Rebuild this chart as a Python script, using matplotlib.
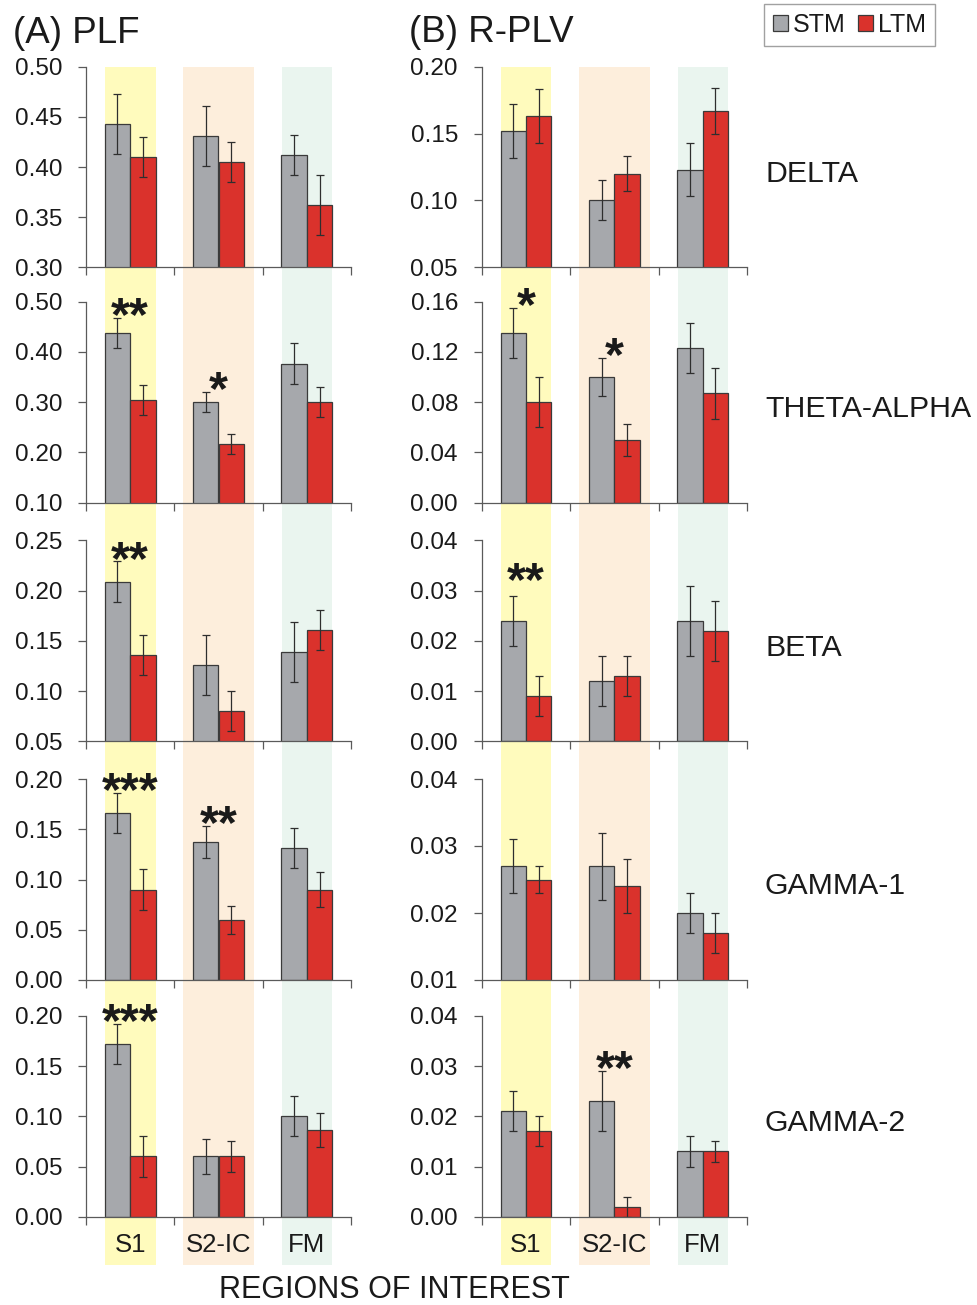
import matplotlib
matplotlib.use("Agg")
import matplotlib.pyplot as plt
from matplotlib.patches import Patch
import numpy as np

plt.rcParams['font.family'] = ['Liberation Sans', 'DejaVu Sans']

# ---------------------------------------------------------------- data
regions = ["S1", "S2-IC", "FM"]
bands = ["DELTA", "THETA-ALPHA", "BETA", "GAMMA-1", "GAMMA-2"]

# PLF: mean and SEM per band (rows) and region (columns)
plf_stm = [[0.443, 0.431, 0.412],
           [0.438, 0.300, 0.377],
           [0.209, 0.126, 0.139],
           [0.166, 0.137, 0.131],
           [0.172, 0.060, 0.100]]
plf_stm_err = [[0.030, 0.030, 0.020],
               [0.030, 0.020, 0.040],
               [0.020, 0.030, 0.030],
               [0.020, 0.016, 0.020],
               [0.020, 0.017, 0.020]]
plf_ltm = [[0.410, 0.405, 0.362],
           [0.305, 0.217, 0.300],
           [0.136, 0.080, 0.161],
           [0.090, 0.060, 0.090],
           [0.060, 0.060, 0.086]]
plf_ltm_err = [[0.020, 0.020, 0.030],
               [0.030, 0.020, 0.030],
               [0.020, 0.020, 0.020],
               [0.020, 0.014, 0.017],
               [0.020, 0.015, 0.017]]

# R-PLV: mean and SEM
rplv_stm = [[0.152, 0.100, 0.123],
            [0.135, 0.100, 0.123],
            [0.024, 0.012, 0.024],
            [0.027, 0.027, 0.020],
            [0.021, 0.023, 0.013]]
rplv_stm_err = [[0.020, 0.015, 0.020],
                [0.020, 0.015, 0.020],
                [0.005, 0.005, 0.007],
                [0.004, 0.005, 0.003],
                [0.004, 0.006, 0.003]]
rplv_ltm = [[0.163, 0.120, 0.167],
            [0.080, 0.050, 0.087],
            [0.009, 0.013, 0.022],
            [0.025, 0.024, 0.017],
            [0.017, 0.002, 0.013]]
rplv_ltm_err = [[0.020, 0.013, 0.017],
                [0.020, 0.013, 0.020],
                [0.004, 0.004, 0.006],
                [0.002, 0.004, 0.003],
                [0.003, 0.002, 0.002]]

# y-axis ranges (min, max, step)
plf_yaxis = [(0.30, 0.50, 0.05), (0.10, 0.50, 0.10), (0.05, 0.25, 0.05),
             (0.00, 0.20, 0.05), (0.00, 0.20, 0.05)]
rplv_yaxis = [(0.05, 0.20, 0.05), (0.00, 0.16, 0.04), (0.00, 0.04, 0.01),
              (0.01, 0.04, 0.01), (0.00, 0.04, 0.01)]

# significance of STM vs LTM
plf_sig = [["", "", ""], ["**", "*", ""], ["**", "", ""],
           ["***", "**", ""], ["***", "", ""]]
rplv_sig = [["", "", ""], ["*", "*", ""], ["**", "", ""],
            ["", "", ""], ["", "**", ""]]

# ---------------------------------------------------------------- style
W, H = 978, 1305
STM_COLOR = "#a6a8ac"
LTM_COLOR = "#da322c"
EDGE = "#3a3a3a"
AXIS = "#5a5a5a"
TEXT = "#1a1a1a"
BAND_COLORS = ["#fffbbd", "#fdeedc", "#eaf5ef"]
BAND_HALF = [0.287, 0.40, 0.283]
BAR_W = 0.287
TICK_FS = 17.5

col_x = [(86, 351), (481.7, 747)]
row_top = [66.7, 301.7, 540.3, 779, 1016]
row_bot = [267.3, 502.7, 741.3, 980, 1216.7]
band_bottom = 1265


def rect(x0, x1, ytop, ybot):
    return [x0 / W, 1 - ybot / H, (x1 - x0) / W, (ybot - ytop) / H]


fig = plt.figure(figsize=(W / 100, H / 100), dpi=100)

centers = np.arange(len(regions)) + 0.5

# shaded region bands behind each column
for (x0, x1) in col_x:
    bg = fig.add_axes(rect(x0, x1, row_top[0], band_bottom), zorder=0)
    bg.set_xlim(0, 3)
    bg.set_ylim(0, 1)
    for c, hw, colr in zip(centers, BAND_HALF, BAND_COLORS):
        bg.axvspan(c - hw, c + hw, color=colr, lw=0)
    bg.axis("off")

panels = [
    (plf_stm, plf_stm_err, plf_ltm, plf_ltm_err, plf_yaxis, plf_sig),
    (rplv_stm, rplv_stm_err, rplv_ltm, rplv_ltm_err, rplv_yaxis, rplv_sig),
]

# extra lift (points) for marks that sit higher above their error bar
star_lift = {(1, 2, 0): 20.0}

for ci, (stm, stm_e, ltm, ltm_e, yax, sig) in enumerate(panels):
    x0, x1 = col_x[ci]
    for ri in range(len(bands)):
        ax = fig.add_axes(rect(x0, x1, row_top[ri], row_bot[ri]), zorder=2)
        ax.set_facecolor("none")
        ymin, ymax, step = yax[ri]
        ax.bar(centers - BAR_W / 2, stm[ri], BAR_W, yerr=stm_e[ri],
               color=STM_COLOR, edgecolor=EDGE, linewidth=0.9,
               error_kw=dict(ecolor="#2e2e2e", elinewidth=0.9, capsize=2.6,
                             capthick=0.9))
        ax.bar(centers + BAR_W / 2, ltm[ri], BAR_W, yerr=ltm_e[ri],
               color=LTM_COLOR, edgecolor=EDGE, linewidth=0.9,
               error_kw=dict(ecolor="#2e2e2e", elinewidth=0.9, capsize=2.6,
                             capthick=0.9))
        ax.set_xlim(0, 3)
        ax.set_ylim(ymin, ymax)
        ax.set_yticks(np.arange(ymin, ymax + step / 2, step))
        ax.yaxis.set_major_formatter(matplotlib.ticker.FormatStrFormatter("%.2f"))
        ax.set_xticks([0, 1, 2, 3])
        ax.set_xticklabels([])
        for s in ("top", "right"):
            ax.spines[s].set_visible(False)
        for s in ("left", "bottom"):
            ax.spines[s].set_color(AXIS)
            ax.spines[s].set_linewidth(0.9)
        ax.tick_params(axis="both", which="major", direction="out",
                       length=5.6, width=0.9, color=AXIS,
                       labelsize=TICK_FS, labelcolor=TEXT)
        ax.tick_params(axis="y", pad=11.5)
        if ri == len(bands) - 1:
            ax.set_xticks(centers, minor=True)
            ax.set_xticklabels(regions, minor=True)
            ax.tick_params(axis="x", which="minor", length=0, pad=12,
                           labelsize=18.5, labelcolor=TEXT)

        # significance marks
        for gi in range(len(regions)):
            mark = sig[ri][gi]
            if not mark:
                continue
            top = max(stm[ri][gi] + stm_e[ri][gi], ltm[ri][gi] + ltm_e[ri][gi])
            lift = star_lift.get((ci, ri, gi), 10.8)
            fs = 35
            ax.annotate(mark, xy=(centers[gi], top), xytext=(0, lift - 0.56 * fs),
                        textcoords="offset points", ha="center", va="baseline",
                        fontsize=fs, fontweight="bold", color=TEXT,
                        annotation_clip=False)

        if ci == 1:
            yc = (row_top[ri] + row_bot[ri]) / 2 + 15
            fig.text(765 / W, 1 - yc / H, bands[ri], ha="left", va="baseline",
                     fontsize=21.8, color=TEXT)

fig.text(13 / W, 1 - 42.7 / H, "(A) PLF", ha="left", va="baseline",
         fontsize=26.5, color=TEXT)
fig.text(409 / W, 1 - 41.7 / H, "(B) R-PLV", ha="left", va="baseline",
         fontsize=26.5, color=TEXT)
fig.text(394 / W, 1 - 1298 / H, "REGIONS OF INTEREST", ha="center",
         va="baseline", fontsize=22, color=TEXT)

handles = [Patch(facecolor=STM_COLOR, edgecolor=EDGE, linewidth=0.9),
           Patch(facecolor=LTM_COLOR, edgecolor=EDGE, linewidth=0.9)]
leg = fig.legend(handles, ["STM", "LTM"], loc="upper right",
                 bbox_to_anchor=(935 / W, 1 - 4 / H), ncol=2, fontsize=18,
                 frameon=True, fancybox=False, handlelength=0.6,
                 handleheight=0.6, handletextpad=0.2, columnspacing=0.5,
                 borderpad=0.35, borderaxespad=0)
leg.get_frame().set_edgecolor("#8a8a8a")
leg.get_frame().set_linewidth(1.0)
for t in leg.get_texts():
    t.set_color(TEXT)

fig.savefig("out.png", dpi=100)
